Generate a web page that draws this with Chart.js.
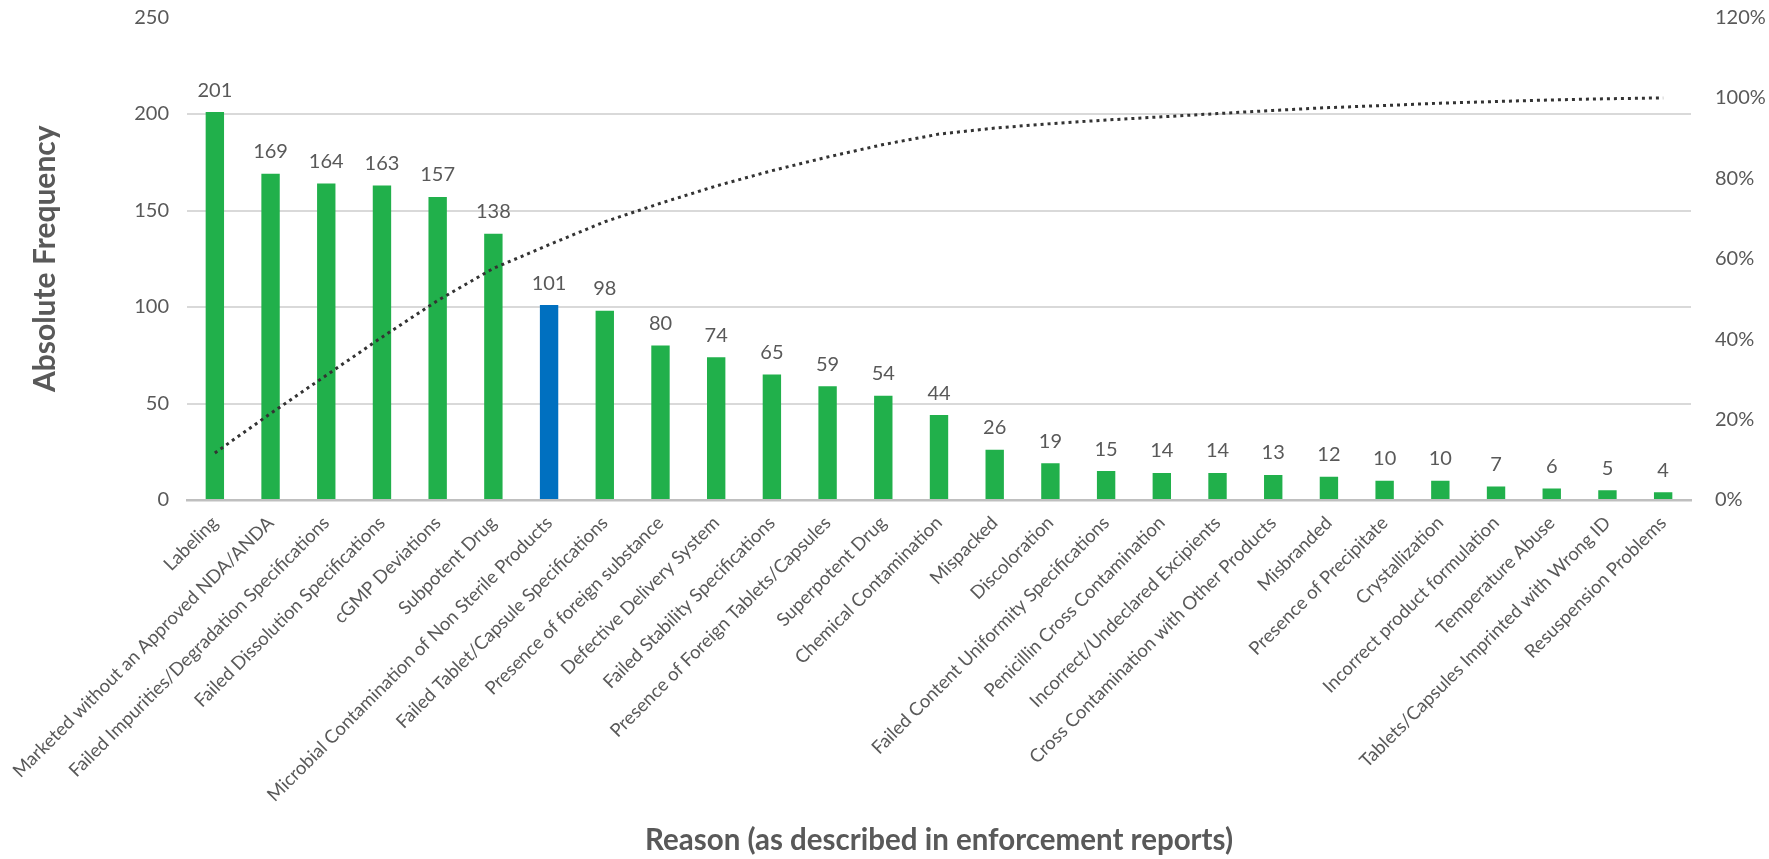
<!DOCTYPE html>
<html>
<head>
<meta charset="utf-8">
<script src="https://cdn.jsdelivr.net/npm/chart.js@4.4.1/dist/chart.umd.min.js"></script>
<style>
  html, body { margin: 0; padding: 0; background: #fff; }
  #chart { display: block; }
</style>
</head>
<body>
<canvas id="chart" width="1769" height="859"></canvas>
<script>
const reasons = [
    "Labeling",
    "Marketed without an Approved NDA/ANDA",
    "Failed Impurities/Degradation Specifications",
    "Failed Dissolution Specifications",
    "cGMP Deviations",
    "Subpotent Drug",
    "Microbial Contamination of Non Sterile Products",
    "Failed Tablet/Capsule Specifications",
    "Presence of foreign substance",
    "Defective Delivery System",
    "Failed Stability Specifications",
    "Presence of Foreign Tablets/Capsules",
    "Superpotent Drug",
    "Chemical Contamination",
    "Mispacked",
    "Discoloration",
    "Failed Content Uniformity Specifications",
    "Penicillin Cross Contamination",
    "Incorrect/Undeclared Excipients",
    "Cross Contamination with Other Products",
    "Misbranded",
    "Presence of Precipitate",
    "Crystallization",
    "Incorrect product formulation",
    "Temperature Abuse",
    "Tablets/Capsules Imprinted with Wrong ID",
    "Resuspension Problems"
];

const frequency = [201, 169, 164, 163, 157, 138, 101, 98, 80, 74, 65, 59, 54, 44,
                   26, 19, 15, 14, 14, 13, 12, 10, 10, 7, 6, 5, 4];

// cumulative share (%)
const cumulativePct = [11.7, 21.5, 31.0, 40.5, 49.6, 57.6, 63.5, 69.2, 73.8, 78.1,
                       81.9, 85.3, 88.4, 91.0, 92.5, 93.6, 94.5, 95.3, 96.1, 96.9,
                       97.6, 98.1, 98.7, 99.1, 99.5, 99.8, 100];

const leftTicks = [0, 50, 100, 150, 200, 250];
const rightTicks = [0, 20, 40, 60, 80, 100, 120];

const highlightIndex = 6;
const GREEN = "#21b04b";
const BLUE = "#0070c0";
const TEXT = "#595959";
const FONT = "Lato, 'Open Sans', sans-serif";

const barColors = frequency.map((v, i) => i === highlightIndex ? BLUE : GREEN);

// value labels above the bars
const barValueLabels = {
    id: "barValueLabels",
    afterDatasetsDraw(chart) {
        const ctx = chart.ctx;
        const meta = chart.getDatasetMeta(1);
        ctx.save();
        ctx.font = "20px " + FONT;
        ctx.fillStyle = TEXT;
        ctx.textAlign = "center";
        ctx.textBaseline = "middle";
        meta.data.forEach((bar, i) => {
            ctx.fillText(String(frequency[i]), bar.x, bar.y - 22);
        });
        ctx.restore();
    }
};

// keep the plot box fixed: no extra room for the end tick labels
function noEndPadding(scale) {
    scale.paddingTop = 0;
    scale.paddingBottom = 0;
}

new Chart(document.getElementById("chart"), {
    data: {
        labels: reasons,
        datasets: [
            {
                type: "line",
                label: "Cumulative",
                data: cumulativePct,
                yAxisID: "y1",
                borderColor: "#333333",
                borderWidth: 3,
                borderDash: [3, 4],
                pointRadius: 0,
                tension: 0,
                fill: false,
                order: 0
            },
            {
                type: "bar",
                label: "Absolute Frequency",
                data: frequency,
                yAxisID: "y",
                backgroundColor: barColors,
                barPercentage: 0.33,
                categoryPercentage: 1,
                order: 1
            }
        ]
    },
    options: {
        responsive: false,
        devicePixelRatio: 1,
        animation: false,
        layout: { padding: { top: 17.5, left: 0, right: 0, bottom: 0 } },
        plugins: {
            legend: { display: false },
            tooltip: { enabled: false }
        },
        scales: {
            x: {
                grid: { display: false },
                border: { color: "#bfbfbf", width: 2.5 },
                ticks: {
                    autoSkip: false,
                    minRotation: 45,
                    maxRotation: 45,
                    padding: 4,
                    color: TEXT,
                    font: { family: FONT, size: 18.5 }
                },
                title: {
                    display: true,
                    text: "Reason (as described in enforcement reports)",
                    color: TEXT,
                    font: { family: FONT, size: 29.5, weight: "bold" },
                    padding: { top: 0, bottom: 1 }
                },
                afterFit(scale) { scale.height = 359; }
            },
            y: {
                position: "left",
                min: 0,
                max: 250,
                afterBuildTicks(scale) { scale.ticks = leftTicks.map(v => ({ value: v })); },
                grid: {
                    // no gridline at the top of the axis
                    color: ctx => ctx.tick && ctx.tick.value === 250 ? "rgba(0,0,0,0)" : "#d9d9d9",
                    lineWidth: 2,
                    drawTicks: false
                },
                border: { display: false },
                ticks: {
                    padding: 18,
                    color: TEXT,
                    font: { family: FONT, size: 20 }
                },
                title: {
                    display: true,
                    text: "Absolute Frequency",
                    color: TEXT,
                    font: { family: FONT, size: 30, weight: "bold" },
                    padding: { top: 27, bottom: 0 }
                },
                afterFit(scale) {
                    scale.width = 187;
                    noEndPadding(scale);
                }
            },
            y1: {
                position: "right",
                min: 0,
                max: 120,
                afterBuildTicks(scale) { scale.ticks = rightTicks.map(v => ({ value: v })); },
                grid: { display: false, drawTicks: false },
                border: { display: false },
                ticks: {
                    padding: 24,
                    color: TEXT,
                    font: { family: FONT, size: 20 },
                    callback: v => v + "%"
                },
                afterFit(scale) {
                    scale.width = 78;
                    noEndPadding(scale);
                }
            }
        }
    },
    plugins: [barValueLabels]
});
</script>
</body>
</html>
